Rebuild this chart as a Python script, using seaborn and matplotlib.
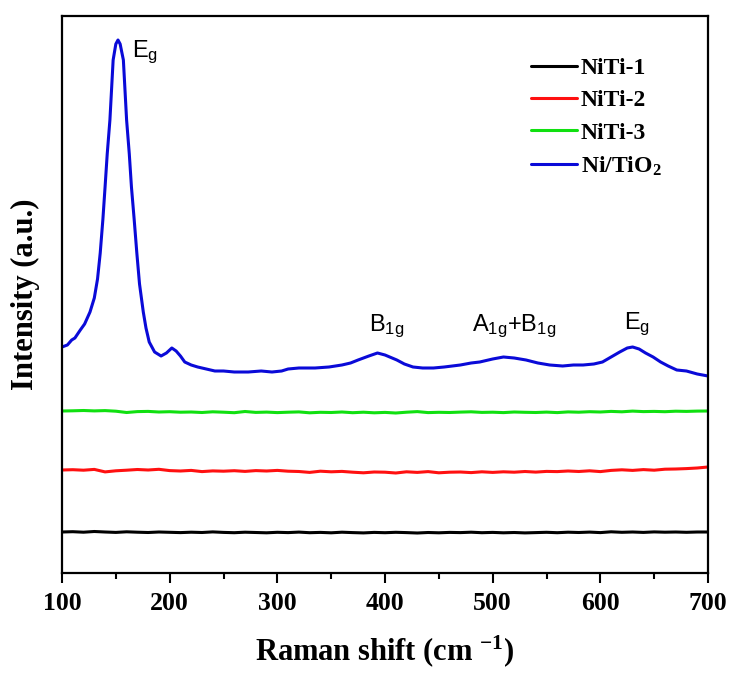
import numpy as np
import pandas as pd
import matplotlib
matplotlib.use("Agg")
import matplotlib.pyplot as plt
import seaborn as sns
from matplotlib.ticker import MultipleLocator

# ---------------- data ----------------
shift_flat = list(range(100, 701, 10))

niti1 = [42.0,42.3,41.8,42.5,42.0,41.6,42.2,41.8,41.5,42.0,41.7,41.4,41.8,41.5,42.1,41.6,41.3,41.8,41.5,41.2,
         41.7,41.4,41.9,41.3,41.6,41.2,41.8,41.4,41.1,41.6,41.3,41.7,41.4,41.0,41.5,41.2,41.6,41.4,41.8,41.3,
         41.6,41.2,41.5,41.1,41.4,41.7,41.3,41.8,41.5,41.9,41.4,42.2,41.7,42.0,41.6,42.1,41.8,42.0,41.7,42.0,42.0]

niti2 = [104.0,104.3,103.8,104.6,102.1,103.2,103.8,104.5,104.0,104.7,103.4,103.0,103.6,102.4,103.1,102.8,103.3,102.6,103.4,103.0,
         103.6,102.8,102.5,101.6,102.8,102.2,102.6,101.8,101.2,102.0,101.8,101.0,102.2,101.6,102.4,101.2,101.8,102.0,101.4,102.2,
         101.6,102.2,101.8,102.5,101.9,102.6,102.4,103.0,102.5,103.2,102.4,103.6,104.2,103.6,104.4,103.8,104.8,105.0,105.4,106.0,107.0]

niti3 = [163.0,163.2,163.5,163.1,163.4,162.8,161.5,162.4,162.6,162.0,162.3,161.8,162.0,161.5,162.2,161.8,161.3,162.5,161.6,161.9,
         161.4,161.8,162.1,161.2,161.7,161.5,162.0,161.3,161.8,161.2,161.6,161.0,161.8,162.4,161.4,161.7,161.5,161.9,162.2,161.6,
         161.8,161.4,162.0,161.7,161.5,161.9,161.4,162.1,161.8,162.3,162.0,162.6,162.2,162.9,162.4,162.6,162.3,162.8,162.6,162.9,163.0]

shift_tio2 = [100,105,109,112,117,121,126,130,133,135.5,138,140,142,144.5,147.5,150,152,154,157,160,162.5,164.5,
              167,169.5,172,175.5,178,181,186,192,197,202,206,210,214,220,226,234,242,250,260,273,285,295,304,
              310,320,335,348,360,368,375,385,393,400,411,418,426,435,445,455,470,480,488,500,510,520,531,542,
              553,565,575,584,594,602,610,618,625,630,636,642,649,656,663,671,680,690,700]
ni_tio2 = [227,229,234,236,244,250,262,276,295,321,355,387,420,454,514,530,534,530,514,454,420,387,
           355,321,290,262,246,232,222,218,221,226,223,218,212,209,207,205,203,203,202,202,203,202,203,
           205,206,206,207,209,211,214,218,221,219,214,210,207,206,206,207,209,211,212,215,217,216,214,211,
           209,208,209,209,210,212,217,222,226,227,225,221,217,212,208,204,203,200,198]

series_names = ["NiTi-1", "NiTi-2", "NiTi-3", r"Ni/TiO$_\mathbf{2}$"]
series_colors = ["#000000", "#ff1010", "#10e010", "#0a0ad8"]

xticks = [100, 200, 300, 400, 500, 600, 700]

# ---------------- build long table ----------------
frames = []
for name, xs, ys in [(series_names[0], shift_flat, niti1),
                     (series_names[1], shift_flat, niti2),
                     (series_names[2], shift_flat, niti3),
                     (series_names[3], shift_tio2, ni_tio2)]:
    frames.append(pd.DataFrame({"shift": xs, "intensity": ys, "sample": name}))
df = pd.concat(frames, ignore_index=True)

# ---------------- style ----------------
sns.set_theme(style="ticks")
plt.rcParams["font.family"] = ["Liberation Serif", "DejaVu Serif"]
plt.rcParams["mathtext.fontset"] = "custom"
plt.rcParams["mathtext.rm"] = "Liberation Serif:bold"
plt.rcParams["mathtext.bf"] = "Liberation Serif:bold"
plt.rcParams["mathtext.sf"] = "Liberation Sans"
plt.rcParams["mathtext.it"] = "Liberation Serif:italic"
plt.rcParams["text.color"] = "black"
plt.rcParams["axes.labelcolor"] = "black"
plt.rcParams["xtick.color"] = "black"
plt.rcParams["ytick.color"] = "black"

fig = plt.figure(figsize=(7.31, 6.73), dpi=100)
ax = fig.add_axes([62/731, 1 - 573/673, 646/731, 557/673])

sns.lineplot(data=df, x="shift", y="intensity", hue="sample",
             hue_order=series_names, palette=series_colors,
             estimator=None, sort=False, linewidth=2.2, ax=ax)

ax.set_xlim(100, 700)
ax.set_ylim(1, 558)
ax.set_xticks(xticks)
ax.set_xticklabels([str(t) for t in xticks])
ax.xaxis.set_minor_locator(MultipleLocator(50))
ax.set_yticks([])

for s in ax.spines.values():
    s.set_visible(True)
    s.set_linewidth(1.6)
    s.set_color("black")

ax.tick_params(axis="x", which="major", direction="out", length=7, width=1.5,
               labelsize=18.5, pad=7, colors="black")
ax.tick_params(axis="x", which="minor", direction="out", length=4, width=1.5)
for lab in ax.get_xticklabels():
    lab.set_fontweight("bold")

ax.set_xlabel(r"Raman shift (cm $^{\mathbf{-1}}$)", fontsize=22, fontweight="bold", labelpad=13)
ax.set_ylabel("Intensity (a.u.)", fontsize=22, fontweight="bold", labelpad=16)

# annotations
ann_kw = dict(fontsize=17, color="black", ha="left", va="center")
ax.text(165, 522, r"$\mathsf{E_g}$", **ann_kw)
ax.text(385, 248, r"$\mathsf{B_{1g}}$", **ann_kw)
ax.text(481, 248, r"$\mathsf{A_{1g}{+}B_{1g}}$", **ann_kw)
ax.text(622, 250, r"$\mathsf{E_g}$", **ann_kw)

leg = ax.legend(loc="upper left", bbox_to_anchor=((531 - 62) / 646, 0.925),
                frameon=False, handlelength=1.95, handletextpad=0.15,
                labelspacing=0.45, borderpad=0, borderaxespad=0,
                prop={"family": "Liberation Serif", "weight": "bold", "size": 17})
for line in leg.get_lines():
    line.set_linewidth(2.2)

fig.savefig("out.png", dpi=100, facecolor="white")
